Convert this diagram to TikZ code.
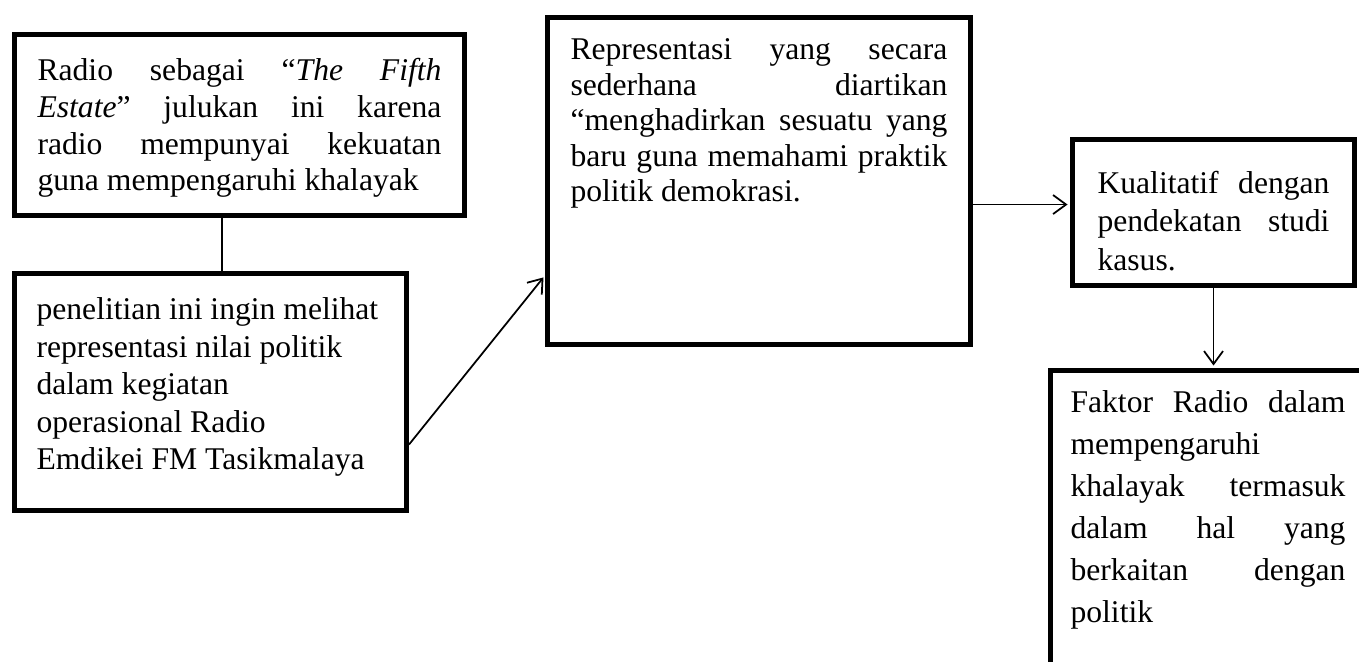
\documentclass[tikz,border=0pt]{standalone}
\usepackage{fontspec}
\setmainfont{Liberation Serif}
\usetikzlibrary{arrows.meta,calc}

\tikzset{
	kotak/.style={draw, line width=2.9pt, anchor=north west, inner ysep=0pt, font=\fontsize{18}{21}\selectfont},
	garis/.style={line width=1pt},
	panah/.style={garis, -{Straight Barb[length=2.6mm,width=3.8mm]}, shorten >=1.4pt}
}
% height, text width, top gap, text
\newcommand{\isikotak}[4]{\parbox[c][#1][t]{#2}{\vspace*{#3}\tolerance=10000 #4}}

\begin{document}
\begin{tikzpicture}[x=0.02cm, y=-0.02cm]
			\clip (0,0) rectangle (1359,662);
			\node[kotak, inner xsep=0.46cm] (radio) at (12,32) {\isikotak{3.62cm}{8.08cm}{0.47cm}{Radio sebagai “\textit{The Fifth}\linebreak \textit{Estate}” julukan ini karena\linebreak radio mempunyai kekuatan\linebreak guna mempengaruhi khalayak}};
			\node[kotak, inner xsep=0.44cm] (penelitian) at (12,271) {\isikotak{4.74cm}{6.96cm}{0.49cm}{\raggedright\fontsize{18}{21.3}\selectfont penelitian ini ingin melihat\\ representasi nilai politik\\ dalam kegiatan\\ operasional Radio\\ Emdikei FM Tasikmalaya}};
			\node[kotak, inner xsep=0.46cm] (representasi) at (545,15) {\isikotak{6.54cm}{7.54cm}{0.43cm}{\fontsize{18}{20.2}\selectfont Representasi yang secara\linebreak sederhana diartikan\linebreak “menghadirkan sesuatu yang\linebreak baru guna memahami praktik\linebreak politik demokrasi.}};
			\node[kotak, inner xsep=0.5cm] (kualitatif) at (1070,137) {\isikotak{2.92cm}{4.64cm}{0.63cm}{\fontsize{18}{21.9}\selectfont Kualitatif dengan\linebreak pendekatan studi\linebreak kasus.}};
			\node[kotak, inner xsep=0.4cm] (faktor) at (1048,368) {\isikotak{8cm}{5.5cm}{0.41cm}{\fontsize{18}{23.9}\selectfont Faktor Radio dalam\linebreak mempengaruhi\newline khalayak termasuk\linebreak dalam hal yang\linebreak berkaitan dengan\linebreak politik}};
			% connectors
			\coordinate (r1) at ($(radio.south west)!0.462!(radio.south east)$);
			\draw[garis] (r1) -- (r1 |- penelitian.north);
			\draw[panah] ([yshift=-1.05cm]penelitian.east) -- ([yshift=-1.89cm]representasi.west);
			\coordinate (k1) at ([yshift=0.16cm]kualitatif.west);
			\draw[panah] (k1 -| representasi.east) -- (k1);
			\draw[panah] (kualitatif.south) -- (kualitatif.south |- faktor.north);
\end{tikzpicture}
\end{document}
